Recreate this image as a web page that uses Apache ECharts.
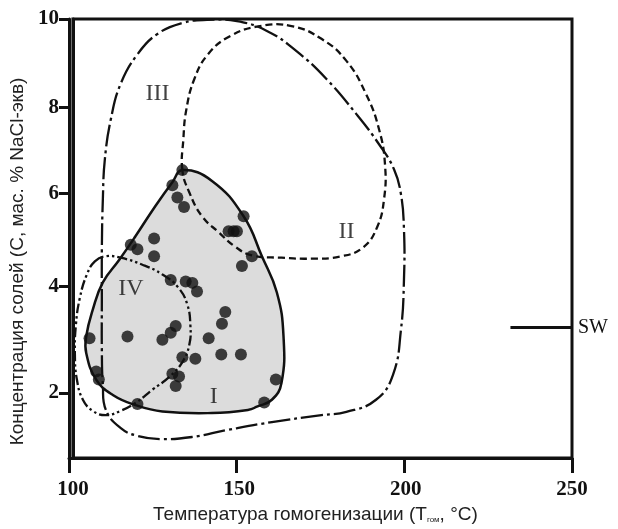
<!DOCTYPE html>
<html><head><meta charset="utf-8">
<script src="https://cdn.jsdelivr.net/npm/echarts@6/dist/echarts.min.js"></script>
<style>html,body{margin:0;padding:0;background:#fff}
#wrap{position:relative;width:618px;height:529px}
#c,#t{position:absolute;left:0;top:0;width:618px;height:529px}
#t{pointer-events:none}
#err{position:absolute;left:2px;top:518px;font:9px sans-serif;color:#c00;white-space:nowrap}</style>
</head><body><div id="wrap"><div id="c"></div><div id="t"></div><div id="err"></div></div>
<script>
// Y axis of the original is unevenly spaced: tick values and their relative heights
const yTickValues = [2, 4, 6, 8, 10];
const yKnotValues = [0.774, 2, 4, 6, 8, 10];
const yKnotHeights = [0, 65, 171, 264, 350, 438];
const xTicks = [100, 150, 200, 250];

// Inclusions: homogenization temperature (°C) and salinity (wt% NaCl eq)
const dotsT = [132.9,129.9,131.4,133.4,151.3,146.8,148.3,149.3,124.4,117.4,119.4,124.4,153.8,150.8,129.4,133.9,135.9,137.3,145.8,144.8,130.9,129.4,126.9,116.4,105.0,140.8,132.9,136.8,144.6,150.5,129.9,131.9,130.9,107.0,107.8,119.4,157.5,161.0];
const dotsC = [6.54,6.19,5.91,5.71,5.51,5.19,5.19,5.19,5.03,4.90,4.80,4.65,4.65,4.44,4.14,4.11,4.08,3.91,3.52,3.30,3.26,3.13,3.00,3.06,3.03,3.03,2.67,2.64,2.72,2.72,2.36,2.31,2.13,2.40,2.25,1.79,1.82,2.25];

// Field I (grey)
const fieldI_T = [132.9,141.8,151.3,156.8,161.3,163.3,162.7,159.8,155.3,152.8,141.8,126.9,118.8,112.0,107.0,104.0,104.0,106.0,109.0,114.0,118.8,124.8,129.9];
const fieldI_C = [6.54,6.29,5.51,4.65,3.89,3.06,2.19,1.87,1.74,1.68,1.62,1.65,1.77,1.96,2.25,2.75,3.06,3.57,4.09,4.58,5.08,5.73,6.26];
// Field II (dashed)
const fieldII_T = [132.9,133.2,134.1,136.5,140.6,147.2,156.2,165.7,174.7,182.2,188.1,192.0,193.8,193.5,191.4,187.2,180.7,171.7,162.7,153.8,148.7,143.9,138.8,135.0];
const fieldII_C = [6.54,7.26,7.95,8.64,9.20,9.61,9.84,9.84,9.55,9.05,8.30,7.49,6.67,5.87,5.27,4.84,4.65,4.60,4.62,4.67,4.86,5.16,5.51,6.02];
// Field III (dash-dot)
const fieldIII_T = [109.9,109.0,108.7,108.7,108.7,109.0,109.6,111.4,114.3,119.4,125.4,132.9,140.3,149.3,158.3,167.2,176.2,185.2,192.0,196.5,198.6,199.5,199.5,198.6,196.2,191.1,182.2,174.7,159.8,146.3,135.9,126.3,119.4,114.3];
const fieldIII_C = [1.68,2.15,2.81,3.75,4.80,5.87,6.79,7.72,8.52,9.20,9.66,9.91,9.98,9.95,9.73,9.27,8.64,7.84,7.14,6.56,5.98,5.23,4.15,3.19,2.34,1.87,1.64,1.58,1.45,1.30,1.17,1.13,1.19,1.34];
// Field IV (dash-dot-dot)
const fieldIV_T = [106.6,109.9,114.3,120.9,126.9,131.7,134.4,135.3,135.0,132.9,129.0,123.9,118.8,114.3,109.9,106.0,103.0,101.2,100.6,100.9,102.1,104.2];
const fieldIV_C = [4.54,4.65,4.62,4.47,4.26,3.98,3.66,3.28,2.91,2.58,2.30,2.06,1.81,1.66,1.58,1.66,1.87,2.25,2.72,3.28,3.79,4.26];

const regionNames = ['I', 'II', 'III', 'IV'];
const regionLabelT = [142.3, 182.2, 125.4, 117.4];
const regionLabelC = [1.93, 5.18, 8.30, 3.97];

const swT = [231.5, 250];
const swC = [3.23, 3.23];

function f(v) {
  const V = yKnotValues, U = yKnotHeights;
  if (v <= V[0]) return U[0] + (v - V[0]) * (U[1] - U[0]) / (V[1] - V[0]);
  for (let i = 1; i < V.length; i++) {
    if (v <= V[i]) return U[i-1] + (v - V[i-1]) * (U[i] - U[i-1]) / (V[i] - V[i-1]);
  }
  const n = V.length - 1;
  return U[n] + (v - V[n]) * (U[n] - U[n-1]) / (V[n] - V[n-1]);
}
const yTickPos = yTickValues.map(f);

function field(T, C, style, smooth) {
  return {
    type: 'custom', silent: true, clip: false,
    data: [[T[0], f(C[0])]],
    renderItem: function (params, api) {
      const pts = T.map((t, i) => api.coord([t, f(C[i])]));
      return { type: 'polygon', shape: { points: pts, smooth: smooth }, style: style };
    },
    z: style.zz || 2
  };
}

const errBox = document.getElementById('err');
window.addEventListener('error', e => { errBox.textContent += ' ' + e.message; });

const GRID = { left: 69, right: 46, top: 19, bottom: 71 };
const serif = 'Liberation Serif';

// main chart
const chart = echarts.init(document.getElementById('c'), null, { renderer: 'canvas' });
try {
chart.setOption({
  animation: false,
  backgroundColor: '#fff',
  grid: Object.assign({ show: true, borderColor: '#111', borderWidth: 3 }, GRID),
  xAxis: {
    type: 'value', min: 100, max: 250, interval: 50,
    axisLine: { show: false },
    axisTick: { show: false },
    axisLabel: { fontFamily: serif, fontWeight: 'bold', fontSize: 21, color: '#111', margin: 21 },
    splitLine: { show: false },
    name: 'Температура гомогенизации (Т{sub|гом}, °С)',
    nameLocation: 'middle', nameGap: 46,
    nameTextStyle: { fontFamily: 'Liberation Sans', fontSize: 19, color: '#222', padding: [0, 14, 0, 0],
      rich: { sub: { fontFamily: 'Liberation Sans', fontSize: 8, color: '#222', padding: [10, 0, 0, 0] } } }
  },
  yAxis: {
    type: 'value', min: 0, max: 438,
    axisLine: { show: true, lineStyle: { color: '#111', width: 3 } },
    axisTick: { show: false },
    axisLabel: { customValues: yTickPos, fontFamily: serif, fontWeight: 'bold', fontSize: 21, color: '#111', margin: 14,
      formatter: function (u) { let best = 0; yTickPos.forEach((p, i) => { if (Math.abs(p - u) < Math.abs(yTickPos[best] - u)) best = i; }); return String(yTickValues[best]); } },
    splitLine: { show: false },
    name: 'Концентрация солей (С, мас. % NaCl-экв)',
    nameLocation: 'middle', nameGap: 40, nameRotate: 90,
    nameTextStyle: { fontFamily: 'Liberation Sans', fontSize: 19, color: '#222', padding: [0, 46, 0, 0] }
  },
  series: [
    field(fieldI_T, fieldI_C, { fill: '#dcdcdc', stroke: '#111', lineWidth: 2.5, zz: 1 }, 0.45),
    field(fieldII_T, fieldII_C, { fill: 'none', stroke: '#111', lineWidth: 2.3, lineDash: [7, 4], zz: 2 }, 0.45),
    field(fieldIII_T, fieldIII_C, { fill: 'none', stroke: '#111', lineWidth: 2.3, lineDash: [22, 4, 3, 4], zz: 2 }, 0.45),
    field(fieldIV_T, fieldIV_C, { fill: 'none', stroke: '#111', lineWidth: 2.3, lineDash: [10, 3, 2.5, 3, 2.5, 3], zz: 2 }, 0.45),
    {
      type: 'scatter', symbol: 'circle', symbolSize: 12, z: 5,
      itemStyle: { color: '#111' },
      data: dotsT.map((t, i) => [t, f(dotsC[i])])
    },
    {
      type: 'scatter', symbolSize: 1, z: 6, silent: true,
      itemStyle: { color: 'rgba(0,0,0,0)' },
      label: { show: true, position: 'inside', formatter: p => regionNames[p.dataIndex], fontFamily: serif, fontSize: 24, color: '#111' },
      data: regionLabelT.map((t, i) => [t, f(regionLabelC[i])])
    },
    {
      type: 'line', z: 6, symbol: 'none', silent: true,
      lineStyle: { color: '#111', width: 3 },
      data: swT.map((t, i) => [t, f(swC[i])]),
      endLabel: { show: true, formatter: 'SW', fontFamily: serif, fontSize: 20, color: '#111', distance: 6 }
    }
  ]
});
} catch (e) { errBox.textContent += ' main: ' + e.message; }

// tick marks: a second, transparent ECharts layer with the same grid and axes
try {
  const tickChart = echarts.init(document.getElementById('t'), null, { renderer: 'canvas' });
  tickChart.setOption({
    animation: false,
    backgroundColor: 'transparent',
    grid: Object.assign({ show: false }, GRID),
    xAxis: {
      type: 'value', min: 100, max: 250, interval: 50,
      axisLine: { show: true, lineStyle: { color: '#111', width: 3 } },
      axisTick: { show: true, length: 15, lineStyle: { color: '#111', width: 3 } },
      axisLabel: { show: true, color: 'rgba(0,0,0,0)' },
      splitLine: { show: true, lineStyle: { opacity: 0 } }
    },
    yAxis: {
      type: 'value', min: 0, max: 438,
      axisLine: { show: true, lineStyle: { color: '#111', width: 3 } },
      axisTick: { show: true, length: 10, customValues: yTickPos, lineStyle: { color: '#111', width: 3 } },
      axisLabel: { show: true, customValues: yTickPos, color: 'rgba(0,0,0,0)' },
      splitLine: { show: true, lineStyle: { opacity: 0 } }
    },
    series: [{ type: 'scatter', data: [] }]
  });
} catch (e) { errBox.textContent += ' ticks: ' + e.message; }
</script>
</body></html>
